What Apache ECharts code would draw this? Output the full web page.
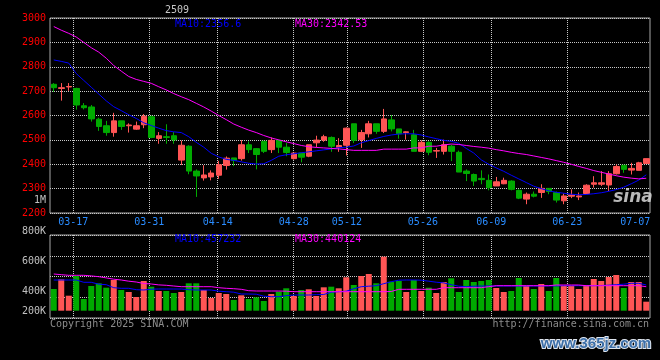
<!DOCTYPE html>
<html><head><meta charset="utf-8">
<script src="https://cdn.jsdelivr.net/npm/echarts@6/dist/echarts.min.js"></script>
<style>html,body{margin:0;padding:0;background:#000;}#c{width:660px;height:360px;}</style>
</head><body><div id="c"></div>
<script>
const title = '2509';
const categories = ['03-12','03-13','03-14','03-17','03-18','03-19','03-20','03-21','03-24','03-25','03-26','03-27','03-28','03-31',
'04-01','04-02','04-03','04-07','04-08','04-09','04-10','04-11','04-14','04-15','04-16','04-17','04-18','04-21','04-22','04-23','04-24','04-25','04-28','04-29','04-30',
'05-06','05-07','05-08','05-09','05-12','05-13','05-14','05-15','05-16','05-19','05-20','05-21','05-22','05-23','05-26','05-27','05-28','05-29','05-30',
'06-03','06-04','06-05','06-06','06-09','06-10','06-11','06-12','06-13','06-16','06-17','06-18','06-19','06-20','06-23','06-24','06-25','06-26','06-27','06-30',
'07-01','07-02','07-03','07-04','07-07','07-08'];
const labelDates = ['03-17','03-31','04-14','04-28','05-12','05-26','06-09','06-23','07-07'];
const opens = [2728,2711,2717,2711,2640,2635,2585,2558,2530,2578,
2558,2544,2562,2595,2506,2513,2517,2417,2474,2372,
2344,2348,2355,2395,2426,2423,2480,2464,2494,2460,
2498,2470,2423,2446,2433,2488,2499,2510,2469,2478,
2566,2501,2525,2566,2535,2582,2545,2530,2521,2453,
2490,2454,2453,2474,2449,2372,2358,2342,2334,2311,
2320,2331,2293,2257,2277,2284,2301,2284,2250,2269,
2266,2280,2318,2318,2315,2361,2396,2376,2375,2403];
const closes = [2714,2714,2719,2643,2632,2586,2555,2530,2578,2555,
2561,2558,2597,2510,2517,2510,2500,2478,2372,2352,
2356,2364,2398,2425,2415,2480,2460,2440,2453,2498,
2470,2448,2446,2429,2480,2499,2513,2474,2477,2548,
2498,2530,2566,2535,2586,2545,2525,2533,2453,2490,
2449,2456,2480,2453,2368,2362,2331,2337,2304,2328,
2334,2297,2261,2277,2269,2301,2288,2253,2270,2274,
2270,2314,2324,2324,2361,2391,2379,2383,2406,2423];
const lows = [2697,2661,2701,2624,2625,2575,2537,2517,2513,2541,
2530,2541,2548,2507,2484,2484,2484,2397,2359,2266,
2333,2334,2340,2378,2392,2415,2446,2379,2446,2446,
2446,2433,2419,2408,2429,2470,2492,2451,2451,2436,
2487,2467,2510,2525,2528,2535,2505,2501,2453,2450,
2437,2426,2440,2413,2368,2331,2311,2318,2293,2311,
2318,2293,2257,2236,2264,2262,2277,2243,2236,2261,
2253,2277,2304,2311,2290,2358,2365,2358,2375,2403];
const highs = [2733,2733,2733,2714,2651,2643,2591,2578,2611,2578,
2568,2575,2606,2600,2532,2564,2532,2497,2478,2379,
2396,2375,2414,2432,2426,2499,2494,2466,2496,2510,
2501,2487,2446,2446,2480,2517,2521,2514,2507,2551,
2566,2541,2578,2566,2627,2602,2545,2535,2541,2498,
2494,2467,2501,2480,2456,2379,2362,2375,2358,2348,
2345,2334,2297,2284,2288,2318,2301,2288,2280,2297,
2284,2318,2351,2372,2372,2399,2396,2406,2410,2423];
const volumes = [417000,514000,350000,547000,317000,447000,474000,430000,507000,407000,
387000,337000,497000,440000,397000,397000,377000,387000,474000,474000,
407000,327000,377000,367000,307000,354000,317000,334000,297000,367000,
390000,424000,347000,407000,414000,347000,434000,440000,424000,534000,
457000,547000,567000,474000,740000,490000,497000,387000,507000,397000,
430000,377000,487000,524000,387000,507000,487000,497000,507000,427000,
387000,397000,527000,447000,417000,467000,397000,527000,447000,447000,
417000,457000,517000,497000,537000,557000,427000,487000,487000,290000];
const ma10 = [2828,2822,2815,2772,2744,2716,2688,2660,2636,2620,
2603,2588,2570,2559,2548,2538,2533,2530,2513,2490,
2470,2445,2430,2420,2416,2410,2404,2401,2402,2416,
2433,2439,2443,2447,2451,2455,2459,2463,2468,2470,
2475,2488,2497,2506,2514,2520,2524,2525,2525,2520,
2512,2505,2498,2494,2486,2465,2446,2418,2400,2385,
2371,2355,2340,2325,2310,2300,2291,2285,2281,2277,
2275,2276,2279,2283,2289,2296,2306,2320,2335,2356.6];
const ma30 = [2965,2950,2937,2922,2900,2878,2860,2835,2805,2782,
2760,2748,2740,2732,2718,2705,2690,2677,2665,2650,
2635,2618,2600,2583,2565,2552,2540,2530,2518,2508,
2500,2492,2485,2477,2472,2469,2467,2465,2463,2460,
2457,2457,2457,2457,2462,2462,2462,2462,2467,2467,
2474,2474,2479,2483,2481,2477,2473,2470,2466,2460,
2455,2449,2444,2440,2434,2428,2422,2415,2408,2400,
2391,2383,2374,2367,2360,2353,2347,2343,2340,2342.53];
const volMa10 = [507000,507000,507000,507000,484000,484000,465000,460000,430000,424000,
424000,410000,407000,415000,417000,417000,417000,417000,410000,407000,
407000,407000,395000,390000,385000,367000,367000,365000,345000,340000,
340000,350000,357000,357000,357000,360000,362000,385000,390000,395000,
420000,440000,445000,450000,470000,490000,505000,507000,507000,505000,
495000,485000,478000,460000,445000,440000,445000,447000,447000,447000,
447000,447000,447000,447000,447000,448000,448000,448000,450000,450000,
450000,450000,450000,452000,455000,460000,465000,474000,474000,457232];
const volMa30 = [567000,560000,554000,554000,554000,548000,540000,528000,515000,507000,
495000,487000,472000,467000,458000,454000,447000,440000,440000,440000,
440000,440000,430000,424000,420000,414000,400000,397000,397000,397000,
397000,395000,390000,390000,390000,390000,390000,390000,390000,390000,
390000,390000,390000,390000,390000,392000,414000,414000,414000,414000,
414000,414000,430000,430000,430000,430000,430000,430000,440000,450000,
450000,450000,450000,450000,450000,450000,450000,457000,457000,457000,
457000,450000,450000,450000,450000,450000,450000,450000,450000,440124];
const volTickLabels = ['800K','600K','400K','200K'];
const extraVolLabel = '1M';
const copyrightText = 'Copyright 2025 SINA.COM';
const urlText = 'http://finance.sina.com.cn';
const watermarkText = 'www.365jz.com';

const RED = '#ff5555', GREEN = '#00aa00', BLUE = '#0000ff', MAG = '#ff00ff';
const MONO = '"DejaVu Sans Mono", "Liberation Mono", monospace';
const GRIDC = '#c8c8c8';
const last = a => a[a.length - 1];

const labelIdx = labelDates.map(d => categories.indexOf(d));
const gridIdx = labelIdx.slice(0, -1);
const lastLabelIdx = last(labelIdx);
const step = 7.6, plotW = 600;
const vMin = -0.5 / step, vMax = vMin + plotW / step;

const chart = echarts.init(document.getElementById('c'), null, {renderer: 'canvas'});
const dotted = {color: GRIDC, width: 1, type: [1, 1]};
const txt = (text, x, y, fill, align, extra) => ({
  type: 'text', x: x, y: y, silent: true, z: 100,
  style: Object.assign({text: text, fill: fill, font: '10px ' + MONO, textAlign: align, textVerticalAlign: 'middle', verticalAlign: 'middle'}, extra || {})
});
const volYs = [231, 261, 291, 311];

const option = {
  backgroundColor: '#000',
  animation: false,
  grid: [
    {left: 50, top: 18, width: 600, height: 195, show: true, borderColor: '#a8a8a8', borderWidth: 1},
    {left: 50, top: 235, width: 600, height: 83, show: true, borderColor: '#a8a8a8', borderWidth: 1},
    {left: 50, top: 235, width: 600, height: 75.7}
  ],
  xAxis: [
    {type: 'category', gridIndex: 0, position: 'top', data: categories, boundaryGap: true,
      axisLine: {show: false}, axisTick: {show: false}, axisLabel: {show: false}, splitLine: {show: false}},
    {type: 'value', gridIndex: 0, position: 'bottom', min: vMin, max: vMax,
      axisLine: {show: false}, axisTick: {show: false, customValues: gridIdx},
      axisLabel: {customValues: labelIdx, color: '#2a8cff', fontFamily: MONO, fontSize: 10, margin: 4,
        formatter: v => { const s = categories[Math.round(v)]; return Math.round(v) === lastLabelIdx ? '{e|' + s + '}' : s; },
        rich: {e: {color: '#2a8cff', fontFamily: MONO, fontSize: 10, padding: [0, 16, 0, 0]}}},
      splitLine: {show: true, lineStyle: dotted}},
    {type: 'value', gridIndex: 1, position: 'bottom', min: vMin, max: vMax,
      axisLine: {show: false}, axisTick: {show: false, customValues: gridIdx}, axisLabel: {show: false},
      splitLine: {show: true, lineStyle: dotted}},
    {type: 'category', gridIndex: 2, data: categories, boundaryGap: true, show: false}
  ],
  yAxis: [
    {type: 'value', gridIndex: 0, min: 2200, max: 3000, interval: 100,
      axisLine: {show: false}, axisTick: {show: false},
      axisLabel: {color: '#ff0000', fontFamily: MONO, fontSize: 10, margin: 4, formatter: v => String(v)},
      splitLine: {show: true, lineStyle: dotted}},
    {type: 'value', gridIndex: 1, min: 0, max: 4, interval: 1,
      axisLine: {show: false}, axisTick: {show: false}, axisLabel: {show: false},
      splitLine: {show: true, lineStyle: dotted}},
    {type: 'value', gridIndex: 2, min: 200000, max: 957000, show: false, splitLine: {show: false}}
  ],
  series: [
    {type: 'candlestick', xAxisIndex: 0, yAxisIndex: 0, barWidth: 6,
      data: categories.map((_, i) => [opens[i], closes[i], lows[i], highs[i]]),
      itemStyle: {color: RED, color0: GREEN, borderColor: RED, borderColor0: GREEN, borderWidth: 1}},
    {type: 'line', name: 'MA10', xAxisIndex: 0, yAxisIndex: 0, data: ma10, showSymbol: false, symbol: 'none',
      lineStyle: {color: BLUE, width: 1}, z: 5},
    {type: 'line', name: 'MA30', xAxisIndex: 0, yAxisIndex: 0, data: ma30, showSymbol: false, symbol: 'none',
      lineStyle: {color: MAG, width: 1}, z: 5},
    {type: 'bar', xAxisIndex: 3, yAxisIndex: 2, barWidth: 6, clip: true,
      data: volumes.map((v, i) => ({value: v, itemStyle: {color: closes[i] >= opens[i] ? RED : GREEN}}))},
    {type: 'line', xAxisIndex: 3, yAxisIndex: 2, data: volMa10, showSymbol: false, symbol: 'none',
      lineStyle: {color: BLUE, width: 1}, z: 5},
    {type: 'line', xAxisIndex: 3, yAxisIndex: 2, data: volMa30, showSymbol: false, symbol: 'none',
      lineStyle: {color: MAG, width: 1}, z: 5}
  ],
  graphic: [
    txt(title, 177, 10, '#c8c8c8', 'center'),
    txt('MA10:' + last(ma10), 175, 24, BLUE, 'left'),
    txt('MA30:' + last(ma30), 295, 24, MAG, 'left'),
    txt('MA10:' + last(volMa10), 175, 239, BLUE, 'left'),
    txt('MA30:' + last(volMa30), 295, 239, MAG, 'left'),
    txt(extraVolLabel, 46, 200, '#c0c0c0', 'right'),
    ...volTickLabels.map((t, k) => txt(t, 46, volYs[k], '#c0c0c0', 'right')),
    txt(copyrightText, 50, 324, '#8c8c8c', 'left'),
    txt(urlText, 649, 324, '#8c8c8c', 'right'),
    txt('sina', 633, 198, '#d8d8d8', 'center', {font: 'italic bold 17px "DejaVu Sans"', opacity: 0.85}),
    txt(watermarkText, 596, 344, '#3d6fa8', 'center', {font: 'bold 15px "Liberation Sans"', stroke: '#dfe6f0', lineWidth: 2})
  ]
};
chart.setOption(option);
</script>
</body></html>
